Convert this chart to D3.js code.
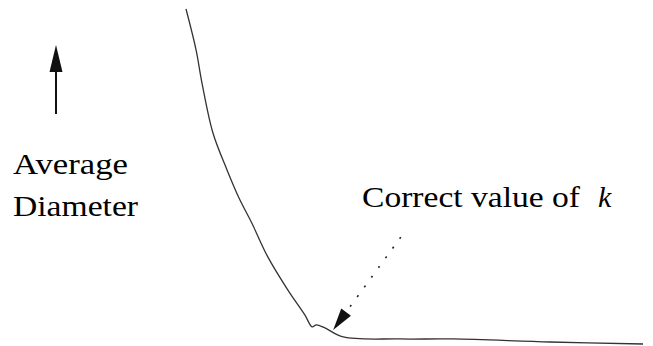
<!DOCTYPE html>
<html>
<head>
<meta charset="utf-8">
<script src="https://cdn.jsdelivr.net/npm/d3@7"></script>
<style>
  body { margin: 0; background: #fff; }
</style>
</head>
<body>
<script>
const w = 653;
const h = 346;

// number of clusters k (arbitrary units, 0..100) vs average diameter (0..100)
const kValues = [0, 2.2, 3.5, 5.9, 9.0, 11.6, 14.4, 17.9, 22.3, 26.0, 27.6, 28.5, 30.4, 34.4, 46.8, 58.4, 79.7, 100];
const diameters = [100, 87.8, 77.9, 63.0, 51.9, 43.6, 36.1, 26.0, 16.1, 8.7, 5.1, 5.7, 4.8, 2.1, 1.5, 1.5, 0.6, 0];

// annotation: dotted arrow pointing at the elbow
const arrowFrom = [47.0, 31.9];
const arrowTo = [32.2, 4.2];

const svg = d3.select("body")
  .append("svg")
  .attr("width", w)
  .attr("height", h);

const labels = [
  {x: 13, y: 174, str: "Average", len: 115, italic: false},
  {x: 13, y: 216, str: "Diameter", len: 125, italic: false},
  {x: 362, y: 207, str: "Correct value of", len: 218, italic: false},
  {x: 598, y: 207, str: "k", len: 0, italic: true}
];

svg.selectAll("text").data(labels).enter().append("text")
  .attr("x", d => d.x)
  .attr("y", d => d.y)
  .attr("font-size", 30)
  .style("font-family", '"Liberation Serif"')
  .style("font-style", d => d.italic ? "italic" : "normal")
  .text(d => d.str)
  .each(function(d) {
    if (d.len) {
      d3.select(this).attr("textLength", d.len).attr("lengthAdjust", "spacingAndGlyphs");
    }
  });

const xScale = d3.scaleLinear().domain([0, 100]).range([186, 643]);
const yScale = d3.scaleLinear().domain([0, 100]).range([344, 9]);

const data = kValues.map((k, i) => [k, diameters[i]]);

const line = d3.line()
  .x(d => xScale(d[0]))
  .y(d => yScale(d[1]))
  .curve(d3.curveCatmullRom.alpha(0.5));

svg.append("path")
  .datum(data)
  .attr("d", line)
  .attr("fill", "none")
  .attr("stroke", "#333")
  .attr("stroke-width", 1.3);

// y label with an up arrow
svg.append("line")
  .attr("x1", 56).attr("y1", 114)
  .attr("x2", 56).attr("y2", 68)
  .attr("stroke", "#111")
  .attr("stroke-width", 2);
svg.append("path")
  .attr("d", "M56,45 L49.5,72 L62.5,72 Z")
  .attr("fill", "#111");

// dotted arrow
const x1 = xScale(arrowFrom[0]), y1 = yScale(arrowFrom[1]);
const x2 = xScale(arrowTo[0]), y2 = yScale(arrowTo[1]);
const ang = Math.atan2(y2 - y1, x2 - x1);
const headLen = 22, headW = 6;
const bx = x2 - headLen * Math.cos(ang), by = y2 - headLen * Math.sin(ang);

svg.append("line")
  .attr("x1", x1).attr("y1", y1)
  .attr("x2", bx).attr("y2", by)
  .attr("stroke", "#222")
  .attr("stroke-width", 1.6)
  .attr("stroke-dasharray", "2,10");

svg.append("path")
  .attr("d", "M" + x2 + "," + y2 +
    " L" + (bx + headW * Math.sin(ang)) + "," + (by - headW * Math.cos(ang)) +
    " L" + (bx - headW * Math.sin(ang)) + "," + (by + headW * Math.cos(ang)) + " Z")
  .attr("fill", "#111");
</script>
</body>
</html>
